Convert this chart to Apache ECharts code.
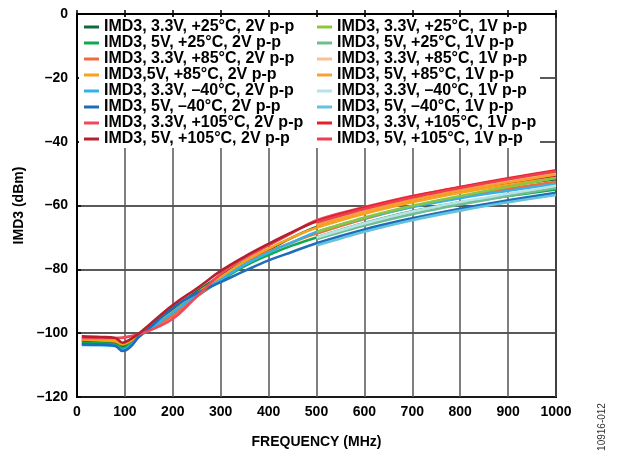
<!DOCTYPE html>
<html>
<head>
<meta charset="utf-8">
<script src="https://cdn.jsdelivr.net/npm/echarts@6/dist/echarts.min.js"></script>
<style>
  html, body { margin: 0; padding: 0; background: #fff; }
  #chart { width: 621px; height: 454px; }
</style>
</head>
<body>
<div id="chart"></div>
<script>
// frequency points (MHz)
const freq2V = [10, 50, 80, 95, 110, 130, 150, 200, 250, 300, 350, 400, 450, 500, 600, 700, 800, 900, 1000]
const freq1V = [500, 600, 700, 800, 900, 1000]

// 2V p-p series
const v33_25_2 = [-102.5, -102.7, -103, -104, -103, -100.5, -98.5, -92.5, -87, -82, -77.5, -73.8, -70, -66.7, -62, -58.5, -55.5, -53.6, -51.8]
const v5_25_2 = [-103, -103.2, -103.5, -104.7, -103.5, -101, -99, -94, -88.5, -83.5, -79, -75.5, -72.5, -70, -65.5, -61.8, -59, -57, -55]
const v33_85_2 = [-102, -102.3, -102.5, -103.3, -102.5, -100.5, -99, -94.5, -88.5, -83, -78, -74.5, -71.5, -68.8, -64.2, -60.4, -57.4, -54.8, -52.6]
const v5_85_2 = [-102, -102.2, -102.5, -103.5, -102.5, -100.3, -98.5, -93.3, -87.5, -82.5, -77.5, -73.5, -70, -67, -62.6, -59, -56, -53.4, -51]
const v33_m40_2 = [-103.7, -103.8, -104, -105.2, -104, -101, -99, -93.5, -88, -83.3, -78.5, -74.8, -71.5, -68.3, -64, -60.5, -57.7, -55.4, -53.3]
const v5_m40_2 = [-103.5, -103.6, -104, -105.6, -104.5, -101, -98.5, -92, -87.5, -84, -80.5, -77.2, -74.5, -71.8, -67.5, -64, -61, -58.4, -56]
const v33_105_2 = [-101.5, -101.5, -101.5, -101.4, -101, -100.3, -99.3, -95.5, -88.5, -81.5, -76.5, -72.5, -68.5, -64.6, -60.5, -57, -54.3, -52, -49.8]
const v5_105_2 = [-101, -101.2, -101.5, -103, -102, -100, -97.5, -91.2, -86, -80.5, -76, -72, -68.3, -65, -60.8, -57.6, -55, -52.7, -50.6]

// 1V p-p series
const v33_25_1 = [-68.3, -63.8, -60.1, -57, -54.1, -51.4]
const v5_25_1 = [-70.6, -66.3, -62.7, -59.7, -57, -54.5]
const v33_85_1 = [-65.8, -61.6, -58, -55, -52.4, -50]
const v5_85_1 = [-66.2, -62, -58.3, -55.3, -52.7, -50.3]
const v33_m40_1 = [-70, -65.6, -61.9, -58.9, -56.3, -53.8]
const v5_m40_1 = [-72.5, -68.2, -64.6, -61.6, -59, -56.7]
const v33_105_1 = [-65, -60.8, -57.2, -54.2, -51.5, -49]
const v5_105_1 = [-65.3, -61.1, -57.5, -54.5, -51.8, -49.3]

const names2V = [
  'IMD3, 3.3V, +25°C, 2V p-p', 'IMD3, 5V, +25°C, 2V p-p',
  'IMD3, 3.3V, +85°C, 2V p-p', 'IMD3,5V, +85°C, 2V p-p',
  'IMD3, 3.3V, –40°C, 2V p-p', 'IMD3, 5V, –40°C, 2V p-p',
  'IMD3, 3.3V, +105°C, 2V p-p', 'IMD3, 5V, +105°C, 2V p-p'
]
const names1V = [
  'IMD3, 3.3V, +25°C, 1V p-p', 'IMD3, 5V, +25°C, 1V p-p',
  'IMD3, 3.3V, +85°C, 1V p-p', 'IMD3, 5V, +85°C, 1V p-p',
  'IMD3, 3.3V, –40°C, 1V p-p', 'IMD3, 5V, –40°C, 1V p-p',
  'IMD3, 3.3V, +105°C, 1V p-p', 'IMD3, 5V, +105°C, 1V p-p'
]
const colors2V = ['#0e6b3a', '#12a84b', '#f26a3b', '#f7a11c', '#36b1e6', '#1f6cbb', '#ee4a5b', '#b4202e']
const colors1V = ['#8cc63f', '#6cc08d', '#f9c190', '#f8a032', '#b8e2ea', '#62c3dc', '#e8202a', '#ee3f50']

const data2V = [v33_25_2, v5_25_2, v33_85_2, v5_85_2, v33_m40_2, v5_m40_2, v33_105_2, v5_105_2]
const data1V = [v33_25_1, v5_25_1, v33_85_1, v5_85_1, v33_m40_1, v5_m40_1, v33_105_1, v5_105_1]

const pair = (xs, ys) => xs.map((x, i) => [x, ys[i]])

const series = []
data2V.forEach((d, i) => {
  series.push({
    name: names2V[i], type: 'line', smooth: 0.4, showSymbol: false,
    data: pair(freq2V, d), color: colors2V[i],
    lineStyle: { width: 2.6 }, z: 2
  })
})
data1V.forEach((d, i) => {
  series.push({
    name: names1V[i], type: 'line', smooth: 0.3, showSymbol: false,
    data: pair(freq1V, d), color: colors1V[i],
    lineStyle: { width: 2.6 }, z: 2
  })
})

const fontFam = 'Liberation Sans, Arial, sans-serif'
const labelFont = { color: '#000', fontWeight: 'bold', fontSize: 14, fontFamily: fontFam }
const legendBase = {
  orient: 'vertical', top: 14, itemWidth: 15, itemHeight: 3, itemGap: 0,
  icon: 'rect', selectedMode: false, z: 5,
  textStyle: { color: '#000', fontWeight: 'bold', fontSize: 16, lineHeight: 16, fontFamily: fontFam }
}
const dash = v => String(v).replace('-', '\u2013')

const chart = echarts.init(document.getElementById('chart'), null, { renderer: 'canvas' })
chart.setOption({
  animation: false,
  backgroundColor: '#fff',
  grid: { left: 77, right: 65, top: 14, bottom: 57, show: true, borderColor: '#000', borderWidth: 2 },
  legend: [
    Object.assign({}, legendBase, { left: 79, data: names2V }),
    Object.assign({}, legendBase, { left: 312, data: names1V })
  ],
  xAxis: [{
    type: 'value', min: 0, max: 1000, interval: 100,
    name: 'FREQUENCY (MHz)', nameLocation: 'middle', nameGap: 38,
    nameTextStyle: labelFont,
    axisLine: { lineStyle: { color: '#000', width: 2 } },
    axisTick: { inside: true, length: 4, lineStyle: { color: '#000', width: 1.5 } },
    axisLabel: Object.assign({ margin: 8, formatter: v => String(v) }, labelFont),
    splitLine: { show: true, lineStyle: { color: '#555', width: 1.5 } }
  }, {
    type: 'value', min: 0, max: 1000, interval: 100, position: 'top',
    axisLine: { show: false },
    axisTick: { inside: true, length: 4, lineStyle: { color: '#000', width: 1.5 } },
    axisLabel: { show: false }, splitLine: { show: false }
  }],
  yAxis: {
    type: 'value', min: -120, max: 0, interval: 20,
    name: 'IMD3 (dBm)', nameLocation: 'middle', nameGap: 43,
    nameTextStyle: labelFont,
    axisLine: { show: true, lineStyle: { color: '#000', width: 2 } },
    axisTick: { show: true, inside: true, length: 4, lineStyle: { color: '#000', width: 1.5 } },
    axisLabel: Object.assign({ margin: 9, formatter: dash }, labelFont),
    splitLine: { show: true, lineStyle: { color: '#222', width: 1.5 } }
  },
  graphic: [
    { type: 'rect', z: 3, shape: { x: 79, y: 17, width: 461, height: 131 }, style: { fill: '#fff' } },
    {
      type: 'text', x: 602, y: 427, rotation: Math.PI / 2, z: 5,
      style: { text: '10916-012', fill: '#333', fontSize: 10, fontFamily: fontFam, align: 'center', verticalAlign: 'middle' }
    }
  ],
  series: series
})
</script>
</body>
</html>
